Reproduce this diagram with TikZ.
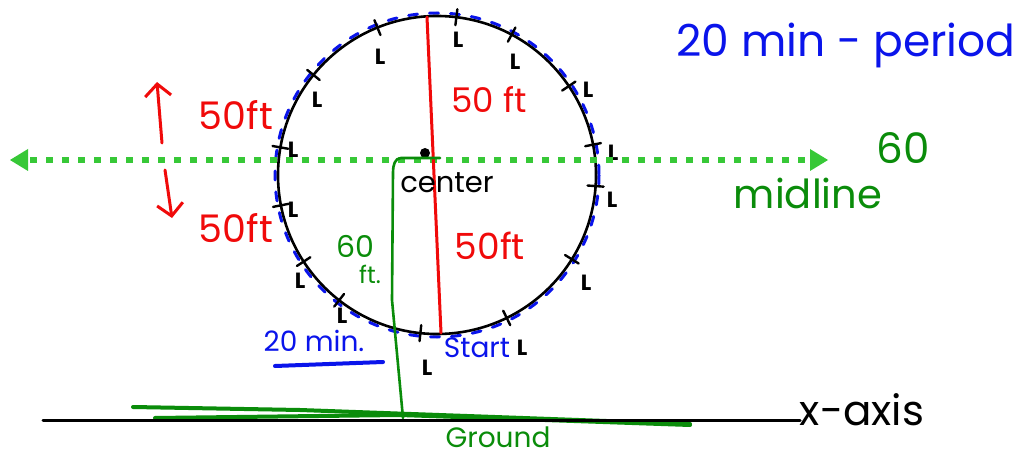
\documentclass[tikz,border=0pt]{standalone}
\usepackage{fontspec}
\setmainfont{Poppins}
\usetikzlibrary{arrows.meta}
\definecolor{hblue}{RGB}{10,20,235}
\definecolor{hred}{RGB}{240,10,10}
\definecolor{hgreen}{RGB}{10,140,10}
\definecolor{lgreen}{RGB}{55,200,55}
\tikzset{
  txt/.style={inner sep=0pt, anchor=center},
  fs/.style={font=\fontsize{#1}{#1}\selectfont},
  tick/.style={black, line width=2.4pt},
  lmark/.style={txt, font=\fontsize{22}{22}\selectfont\bfseries, black},
}
\begin{document}
\begin{tikzpicture}[x=1pt,y=-1pt, line cap=round, line join=round]
\useasboundingbox (0,0) rectangle (1022,457);
\fill[white] (0,0) rectangle (1022,457);

% circle
\coordinate (C) at (437,175);
\draw[hblue, line width=3pt, dash pattern=on 9pt off 12pt] (C) circle[radius=162];
\draw[black, line width=2.6pt] (C) circle[radius=159];

% ticks
\foreach \a in {83,62,34,11,-4,-32,-64,-96,-128,-147,-169,170,141,112}{
  \draw[tick] ({437+151*cos(\a)},{175-151*sin(\a)}) -- ({437+167*cos(\a)},{175-167*sin(\a)});
}
\foreach \p [count=\i] in {(458,40),(515,62),(588,90),(613,153),(612,200),(586,283),(522,348),(427,368),(342,316),(300,281),(293,210),(293,150),(317,100),(380,57)}{
  \node[lmark] (L\i) at \p {L};
}

% midline
\coordinate (ML) at (10,160);
\coordinate (MR) at (828,160);
\draw[lgreen, line width=6pt, line cap=butt, dash pattern=on 7pt off 9pt] (30,160) -- (812,160);
\fill[lgreen] (ML) -- (28,149) -- (28,171) -- cycle;
\fill[lgreen] (MR) -- (810,149) -- (810,171) -- cycle;

% red diameter
\coordinate (Top) at (427,17);
\coordinate (Bot) at (441,333);
\draw[hred, line width=3pt] (Top) -- (Bot);

% center dot
\fill[black] (425,153) circle[radius=5];
\node[txt, fs=29, black] (center) at (447,183) {center};

% green 60 ft line
\coordinate (G0) at (440,158);
\coordinate (Gg) at (403,418);
\draw[hgreen, line width=2.6pt] (G0) -- (401,158) to[out=180,in=90] (393,172) -- (392,300) -- (Gg);

% ground
\coordinate (X0) at (43,420);
\coordinate (X1) at (800,420);
\draw[hgreen, line width=4pt] (133,407) -- (300,410) -- (690,424);
\draw[hgreen, line width=4pt] (155,418) -- (400,415) -- (690,425);
\draw[black, line width=3pt] (X0) -- (X1);

% labels
\node[txt, fs=44, hblue] (period) at (846,45) {20 min - period};
\node[txt, fs=42, hgreen] (sixty) at (903,148) {60};
\node[txt, fs=40, hgreen] (midline) at (808,193) {midline};
\node[txt, fs=34, hred] (r1) at (489,100) {50 ft};
\node[txt, fs=36, hred] (r2) at (490,246) {50ft};
\node[txt, fs=30, hgreen] (s60) at (355,246) {60};
\node[txt, fs=24, hgreen] (sft) at (370,274) {ft.};
\node[txt, fs=28, hblue] (tw) at (314,341) {20 min.};
\draw[hblue, line width=4pt] (275,366) -- (383,362);
\node[txt, fs=28, hblue] (start) at (477,348) {Start};
\node[txt, fs=42, black] (xaxis) at (862,410) {x-axis};
\node[txt, fs=28, hgreen] (ground) at (498,437) {Ground};
\node[txt, fs=38, hred] (up50) at (236,115) {50ft};
\node[txt, fs=38, hred] (dn50) at (236,228) {50ft};
\draw[hred, line width=3pt, -{Straight Barb[length=12pt,width=26pt]}] (162,143) -- (157,82);
\draw[hred, line width=3pt, -{Straight Barb[length=12pt,width=26pt]}] (165,170) -- (172,218);
\end{tikzpicture}
\end{document}
